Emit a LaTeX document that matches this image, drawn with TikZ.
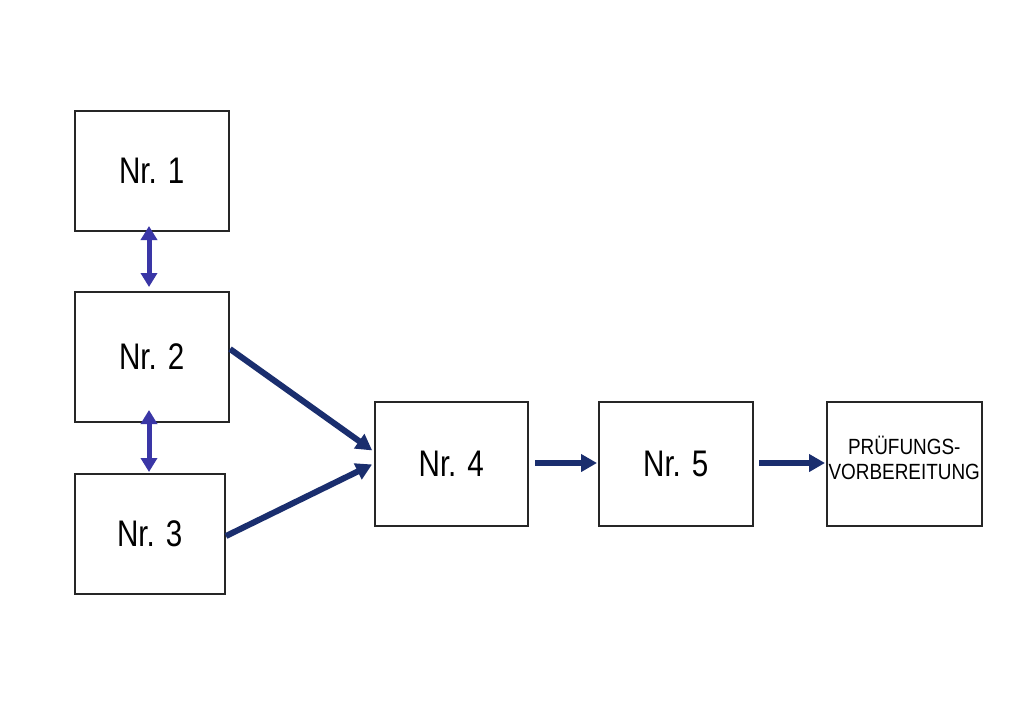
\documentclass[tikz,border=0pt]{standalone}
\usepackage{fontspec}
\setmainfont{Liberation Sans}
\usetikzlibrary{arrows.meta}
\definecolor{navy}{RGB}{26,46,110}
\definecolor{violetblue}{RGB}{58,54,166}
\newcommand{\boxtext}[1]{\scalebox{0.8}[1]{\fontsize{37}{40}\selectfont #1}}
\newcommand{\smalltext}[1]{\scalebox{0.86}[1]{#1}}
\tikzset{
  stepbox/.style={draw=black!85, line width=1.5pt, fill=white, inner sep=0pt, anchor=north west},
  flow/.style={draw=navy, line width=6pt, -{Triangle[length=16pt,width=17pt]}, shorten >=1pt},
  mutual/.style={draw=violetblue, line width=5pt, {Triangle[length=14pt,width=16pt]}-{Triangle[length=14pt,width=16pt]}}
}
\begin{document}
\begin{tikzpicture}[x=1pt,y=-1pt]
\useasboundingbox[fill=white] (0,0) rectangle (1024,726);
\node[stepbox, minimum width=154pt, minimum height=120pt] (n1) at (74,110) {};
\node[stepbox, minimum width=154pt, minimum height=130pt] (n2) at (74,291) {};
\node[stepbox, minimum width=150pt, minimum height=120pt] (n3) at (74,473) {};
\node[stepbox, minimum width=153pt, minimum height=124pt] (n4) at (374,401) {};
\node[stepbox, minimum width=154pt, minimum height=124pt] (n5) at (598,401) {};
\node[stepbox, minimum width=155pt, minimum height=124pt] (n6) at (826,401) {};
\node (t1) at (n1.center) {\boxtext{Nr. 1}};
\node (t2) at (n2.center) {\boxtext{Nr. 2}};
\node (t3) at (n3.center) {\boxtext{Nr. 3}};
\node (t4) at (n4.center) {\boxtext{Nr. 4}};
\node (t5) at (n5.center) {\boxtext{Nr. 5}};
\node[align=center, inner sep=0pt, font=\fontsize{22}{25}\selectfont] (t6) at ([yshift=6pt]n6.center) {\smalltext{PRÜFUNGS-}\\\smalltext{VORBEREITUNG}};
\coordinate (a1) at (149,226);
\coordinate (a2) at (149,287);
\coordinate (b1) at (149,410);
\coordinate (b2) at (149,472);
\draw[mutual] (a1) -- (a2);
\draw[mutual] (b1) -- (b2);
\coordinate (s2) at (230,349);
\coordinate (e2) at (373,451);
\coordinate (s3) at (226,536);
\coordinate (e3) at (373,464);
\draw[flow] (s2) -- (e2);
\draw[flow] (s3) -- (e3);
\draw[flow] (535,463) -- (n5.west |- 535,463);
\draw[flow] (759,463) -- (n6.west |- 759,463);
\end{tikzpicture}
\end{document}
